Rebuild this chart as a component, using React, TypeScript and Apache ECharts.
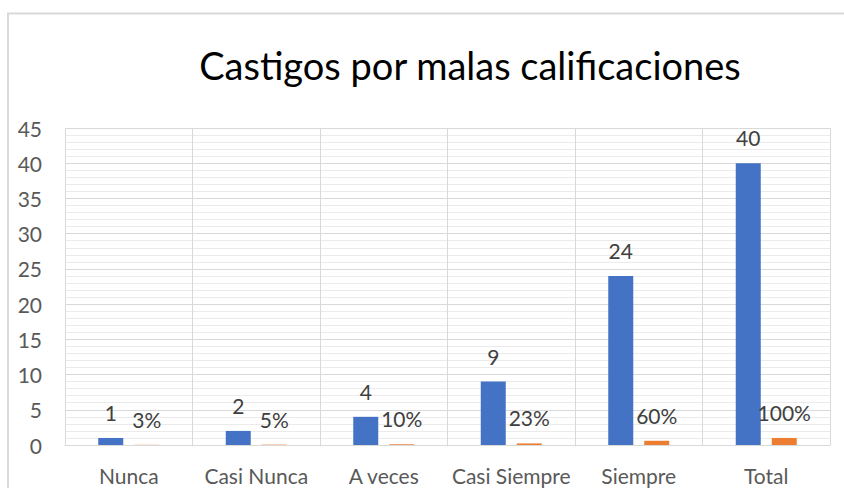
import React, { useEffect, useRef } from "react";
import * as echarts from "echarts";

const categories = ["Nunca", "Casi Nunca", "A veces", "Casi Siempre", "Siempre", "Total"];
const frecuencia = [1, 2, 4, 9, 24, 40];
const porcentaje = [0.025, 0.05, 0.1, 0.225, 0.6, 1];
const porcentajeLabels = ["3%", "5%", "10%", "23%", "60%", "100%"];
const yTicks = { min: 0, max: 45, interval: 5 };
const titleText = "Castigos por malas calificaciones";

const FONT = "Lato, 'Open Sans', sans-serif";

export default function App() {
  const ref = useRef<HTMLDivElement>(null);
  useEffect(() => {
    if (!ref.current) return;
    const chart = echarts.init(ref.current, undefined, { renderer: "svg" });
    chart.setOption({
      animation: false,
      backgroundColor: "#ffffff",
      textStyle: { fontFamily: FONT },
      graphic: [
        {
          type: "rect",
          shape: { x: 8, y: 13.5, width: 900, height: 600 },
          style: { fill: "none", stroke: "#d9d9d9", lineWidth: 2 },
          silent: true,
        },
      ],
      title: {
        text: titleText,
        left: 465,
        top: 41,
        textAlign: "center",
        textStyle: { fontFamily: FONT, fontSize: 38, fontWeight: "normal", color: "#000000" },
      },
      grid: { left: 65, right: 14, top: 128, bottom: 43, containLabel: false },
      xAxis: {
        type: "category",
        data: categories,
        axisLine: { show: true, lineStyle: { color: "#d9d9d9", width: 1 } },
        axisTick: { show: false },
        axisLabel: { color: "#595959", fontSize: 21, fontFamily: FONT, margin: 20, interval: 0 },
        splitLine: { show: true, interval: 0, lineStyle: { color: "#d9d9d9", width: 1 } },
      },
      yAxis: {
        type: "value",
        min: yTicks.min,
        max: yTicks.max,
        interval: yTicks.interval,
        axisLine: { show: false },
        axisTick: { show: false },
        axisLabel: { color: "#595959", fontSize: 21, fontFamily: FONT, margin: 23 },
        splitLine: { show: true, lineStyle: { color: "#d9d9d9", width: 1 } },
        minorTick: { show: false, splitNumber: 5 },
        minorSplitLine: { show: true, lineStyle: { color: "#ebebeb", width: 1 } },
      },
      series: [
        {
          type: "bar",
          data: frecuencia,
          barWidth: 25,
          barGap: "44%",
          itemStyle: { color: "#4472C4" },
          label: {
            show: true,
            position: "top",
            distance: 15,
            color: "#404040",
            fontSize: 21,
            fontFamily: FONT,
          },
        },
        {
          type: "bar",
          data: porcentaje,
          barWidth: 25,
          itemStyle: { color: "#ED7D31" },
          label: {
            show: true,
            position: "top",
            distance: 15,
            color: "#404040",
            fontSize: 21,
            fontFamily: FONT,
            formatter: (p: any) => porcentajeLabels[p.dataIndex],
          },
        },
      ],
    });
    return () => chart.dispose();
  }, []);
  return <div ref={ref} style={{ width: 844, height: 488, position: "absolute", left: 0, top: 0 }} />;
}
